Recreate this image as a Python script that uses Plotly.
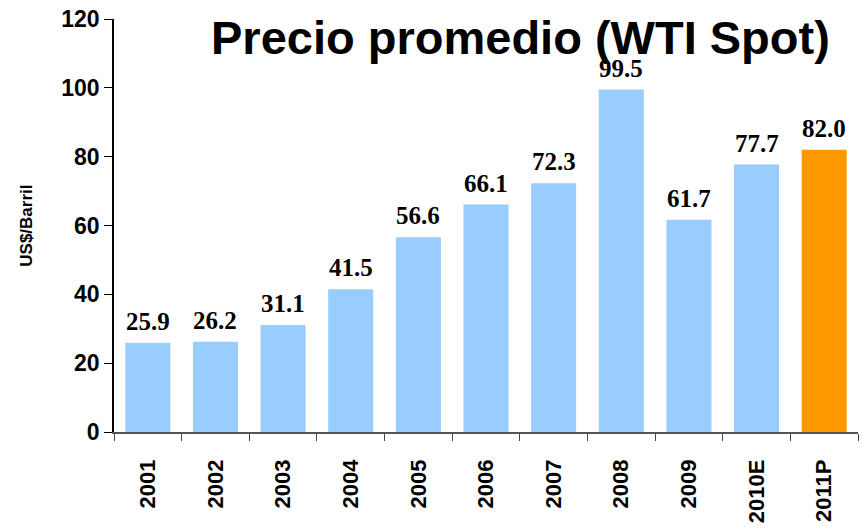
import plotly.graph_objects as go

years = ["2001", "2002", "2003", "2004", "2005", "2006", "2007", "2008", "2009", "2010E", "2011P"]
prices = [25.9, 26.2, 31.1, 41.5, 56.6, 66.1, 72.3, 99.5, 61.7, 77.7, 82.0]
bar_colors = ["#99CCFF"] * 10 + ["#FF9900"]
y_ticks = [0, 20, 40, 60, 80, 100, 120]

fig = go.Figure()
fig.add_trace(go.Bar(x=years, y=prices, marker=dict(color=bar_colors, line=dict(width=0)),
                     hoverinfo="skip"))

for i, p in enumerate(prices):
    fig.add_annotation(x=i, y=p, text=f"{p:.1f}", showarrow=False, yanchor="bottom",
                       yshift=6,
                       font=dict(family="Liberation Serif, Times New Roman, serif", size=25,
                                 color="black", weight="bold"))

fig.add_annotation(xref="paper", yref="paper", x=0.547, y=0.954, text="Precio promedio (WTI Spot)",
                   showarrow=False, xanchor="center", yanchor="middle",
                   font=dict(family="Liberation Sans, Arial, sans-serif", size=47, color="black",
                             weight="bold"))

fig.add_annotation(xref="paper", yref="paper", x=-0.118, y=0.5, text="US$/Barril",
                   showarrow=False, xanchor="center", yanchor="middle", textangle=-90,
                   font=dict(family="Liberation Sans, Arial, sans-serif", size=17, color="black",
                             weight="bold"))

fig.update_layout(
    width=863, height=528,
    margin=dict(l=114, r=5, t=19, b=94),
    paper_bgcolor="white", plot_bgcolor="white",
    bargap=0.334,
    showlegend=False,
    font=dict(family="Liberation Sans, Arial, sans-serif", color="black"),
)
fig.update_xaxes(
    type="category", range=[-0.5, len(years) - 0.5], tickangle=-90, tickson="boundaries",
    ticks="outside", ticklen=7, ticklabelstandoff=17,
    tickcolor="#444", showline=True, linecolor="#555", linewidth=1.5, showgrid=False,
    tickfont=dict(size=22, weight="bold", color="black"),
)
fig.update_yaxes(
    range=[0, 120], tickvals=y_ticks, ticks="outside", ticklen=8, tickcolor="black",
    showline=True, linecolor="black", linewidth=1.5, showgrid=False, zeroline=False,
    tickfont=dict(size=23, weight="bold", color="black"),
)

fig.write_html("out.html", config={"displayModeBar": False})

with open("out.html", "r", encoding="utf-8") as f:
    html = f.read()
html = html.replace("<body>", '<body style="margin:0;padding:0;overflow:hidden">', 1)
with open("out.html", "w", encoding="utf-8") as f:
    f.write(html)
